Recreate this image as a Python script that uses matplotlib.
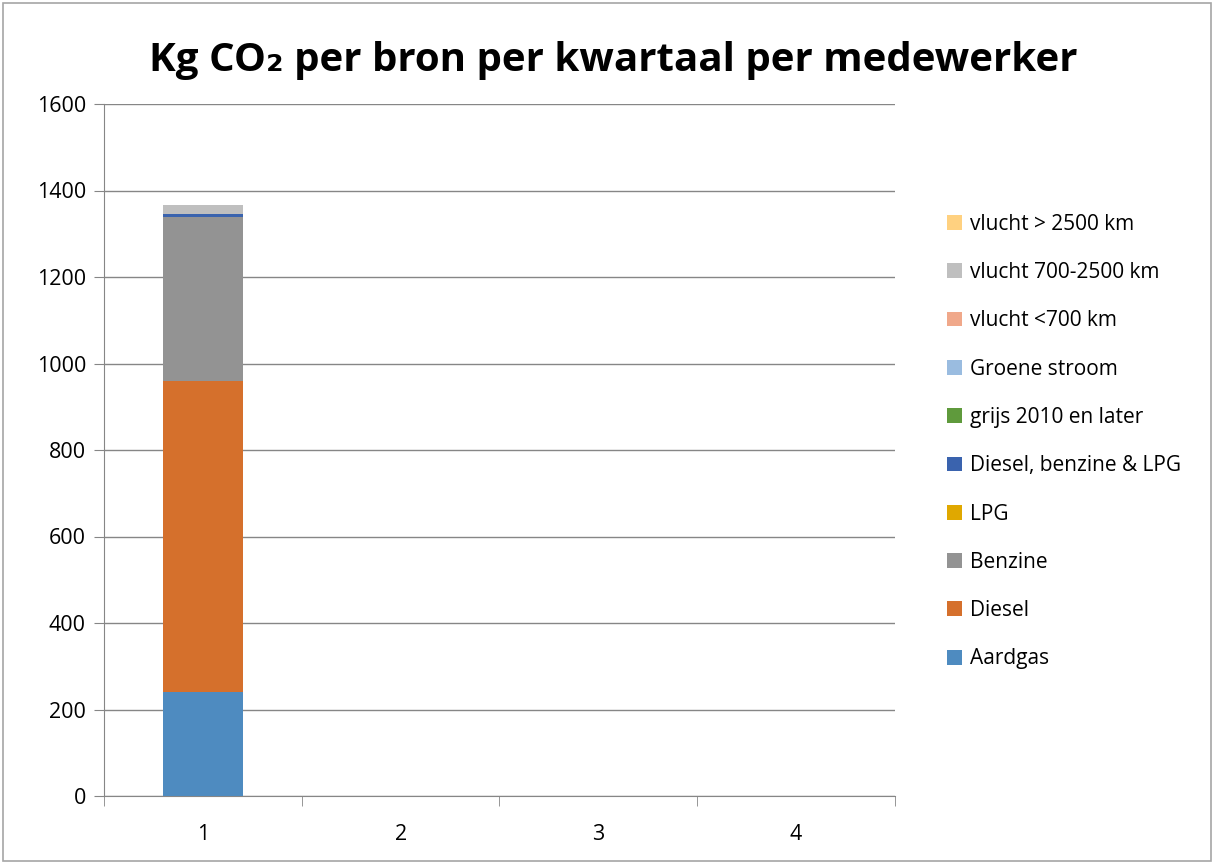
import numpy as np
import matplotlib.pyplot as plt
from matplotlib.patches import Rectangle

plt.rcParams['font.family'] = ['Open Sans', 'DejaVu Sans']

# Quarters and stacked series (kg CO2 per employee)
quarters = ['1', '2', '3', '4']
series_names = ['Aardgas', 'Diesel', 'Benzine', 'LPG', 'Diesel, benzine & LPG',
                'grijs 2010 en later', 'Groene stroom', 'vlucht <700 km',
                'vlucht 700-2500 km', 'vlucht > 2500 km']
series_values = [
    [240, 0, 0, 0],
    [720, 0, 0, 0],
    [379, 0, 0, 0],
    [0, 0, 0, 0],
    [7, 0, 0, 0],
    [0, 0, 0, 0],
    [0, 0, 0, 0],
    [0, 0, 0, 0],
    [21, 0, 0, 0],
    [0, 0, 0, 0],
]
series_colors = ['#4E8BC0', '#D5702C', '#939393', '#E0A800', '#3A63AE',
                 '#5F9A3C', '#9ABCE0', '#F0A88A', '#BFBFBF', '#FFD180']

fig = plt.figure(figsize=(12.14, 8.64), dpi=100)
ax = fig.add_axes([104 / 1214, 1 - 796 / 864, (895 - 104) / 1214, (796 - 104) / 864])

x = np.arange(len(quarters))
bottom = np.zeros(len(quarters))
handles = []
for name, vals, col in zip(series_names, series_values, series_colors):
    vals = np.array(vals, dtype=float)
    b = ax.bar(x, vals, width=0.405, bottom=bottom, color=col, label=name, zorder=3)
    handles.append(b)
    bottom += vals

ax.set_ylim(0, 1600)
ax.set_xlim(-0.5, len(quarters) - 0.5)
ax.set_yticks(np.arange(0, 1601, 200))
ax.set_xticks(x)
ax.set_xticklabels(quarters)
ax.set_xticks(np.arange(-0.5, len(quarters), 1), minor=True)
ax.tick_params(axis='x', which='major', length=0, pad=20, labelsize=15.5)
ax.tick_params(axis='x', which='minor', length=7, color='#868686', direction='out')
ax.tick_params(axis='y', length=7, color='#868686', labelsize=15.5, pad=6)
ax.grid(axis='y', color='#868686', linewidth=1, zorder=0)
for s in ['top', 'right']:
    ax.spines[s].set_visible(False)
for s in ['left', 'bottom']:
    ax.spines[s].set_color('#868686')

fig.text(0.505, 1 - 60 / 864, 'Kg CO\u2082 per bron per kwartaal per medewerker',
         ha='center', va='center', fontsize=29, fontweight='bold')

leg = fig.legend(handles[::-1], series_names[::-1], loc='upper left',
                 bbox_to_anchor=(928 / 1214, 1 - 195 / 864), frameon=False,
                 fontsize=15, handlelength=0.72, handleheight=0.72,
                 handletextpad=0.4, labelspacing=1.31)

fig.patches.append(Rectangle((3 / 1214, 3 / 864), 1 - 6 / 1214, 1 - 6 / 864,
                             transform=fig.transFigure, fill=False,
                             edgecolor='#A6A6A6', linewidth=1.2))

fig.savefig('out.png', dpi=100)
